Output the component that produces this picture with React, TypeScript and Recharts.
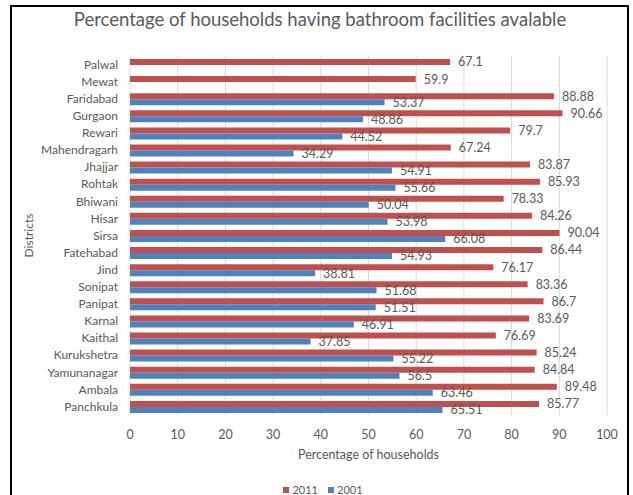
import { Bar, BarChart, CartesianGrid, LabelList, Legend, XAxis, YAxis } from 'recharts'

const districts = [
  'Palwal', 'Mewat', 'Faridabad', 'Gurgaon', 'Rewari', 'Mahendragarh', 'Jhajjar',
  'Rohtak', 'Bhiwani', 'Hisar', 'Sirsa', 'Fatehabad', 'Jind', 'Sonipat', 'Panipat',
  'Karnal', 'Kaithal', 'Kurukshetra', 'Yamunanagar', 'Ambala', 'Panchkula',
]
const values2011 = [
  67.1, 59.9, 88.88, 90.66, 79.7, 67.24, 83.87, 85.93, 78.33, 84.26, 90.04,
  86.44, 76.17, 83.36, 86.7, 83.69, 76.69, 85.24, 84.84, 89.48, 85.77,
]
const values2001 = [
  null, null, 53.37, 48.86, 44.52, 34.29, 54.91, 55.66, 50.04, 53.98, 66.08,
  54.93, 38.81, 51.68, 51.51, 46.91, 37.85, 55.22, 56.5, 63.46, 65.51,
]
const xTicks = [0, 10, 20, 30, 40, 50, 60, 70, 80, 90, 100]
const seriesNames = ['2011', '2001']
const seriesColors = ['#C0504D', '#4F81BD']

const data = districts.map((name, i) => ({ name, y2011: values2011[i], y2001: values2001[i] }))

const FONT = 'Lato, "Open Sans", sans-serif'
const GREY = '#595959'

const LegendContent = () => (
  <div style={{ display: 'flex', justifyContent: 'center', gap: 10, fontSize: 11, color: GREY, lineHeight: '12px' }}>
    {seriesNames.map((n, i) => (
      <span key={n} style={{ display: 'flex', alignItems: 'center', gap: 3 }}>
        <span style={{ width: 6, height: 6, background: seriesColors[i], display: 'inline-block' }} />
        {n}
      </span>
    ))}
  </div>
)

// rotated axis title, centred on the plot height
const DistrictsLabel = (props: any) => {
  const { viewBox } = props
  const x = 28
  const y = viewBox.y + viewBox.height / 2
  return (
    <text x={x} y={y} transform={`rotate(-90 ${x} ${y})`} textAnchor="middle" dominantBaseline="central" fill={GREY} fontSize={12}>
      Districts
    </text>
  )
}

export default function App() {
  return (
    <div style={{ position: 'absolute', left: 0, top: 0, width: 633, height: 495, background: '#fff', overflow: 'hidden', fontFamily: FONT }}>
      <div style={{ position: 'absolute', left: 10, top: 5, width: 615, height: 520, border: '2px solid #000' }} />
      <div style={{ position: 'absolute', left: 0, top: 8, width: 640, textAlign: 'center', fontSize: 18.5, color: GREY }}>
        Percentage of households having bathroom facilities avalable
      </div>
      <div style={{ position: 'absolute', left: 0, top: 0 }}>
        <BarChart
          width={633}
          height={495}
          data={data}
          layout="vertical"
          barSize={6}
          barGap={0}
          margin={{ top: 56, right: 26, bottom: 18, left: 0 }}
          style={{ fontFamily: FONT }}
        >
          <CartesianGrid horizontal={false} stroke="#d9d9d9" />
          <XAxis
            type="number"
            domain={[0, 100]}
            ticks={xTicks}
            axisLine={false}
            tickLine={false}
            tickMargin={9}
            tick={{ fill: GREY, fontSize: 12.5 }}
            height={50}
            label={{ value: 'Percentage of households', position: 'insideBottom', offset: 6, fill: GREY, fontSize: 12.5 }}
          />
          <YAxis
            type="category"
            dataKey="name"
            width={130}
            axisLine={false}
            tickLine={false}
            interval={0}
            tick={{ fill: GREY, fontSize: 12 }}
            tickMargin={6}
            label={<DistrictsLabel />}
          />
          <Legend
            verticalAlign="bottom"
            content={<LegendContent />}
            wrapperStyle={{ top: 484, left: 0, width: 646, bottom: 'auto' }}
          />
          <Bar dataKey="y2011" name="2011" fill={seriesColors[0]} isAnimationActive={false}>
            <LabelList dataKey="y2011" position="right" offset={8} fill={GREY} fontSize={12.5} />
          </Bar>
          <Bar dataKey="y2001" name="2001" fill={seriesColors[1]} isAnimationActive={false}>
            <LabelList dataKey="y2001" position="right" offset={8} fill={GREY} fontSize={12.5} />
          </Bar>
        </BarChart>
      </div>
    </div>
  )
}
